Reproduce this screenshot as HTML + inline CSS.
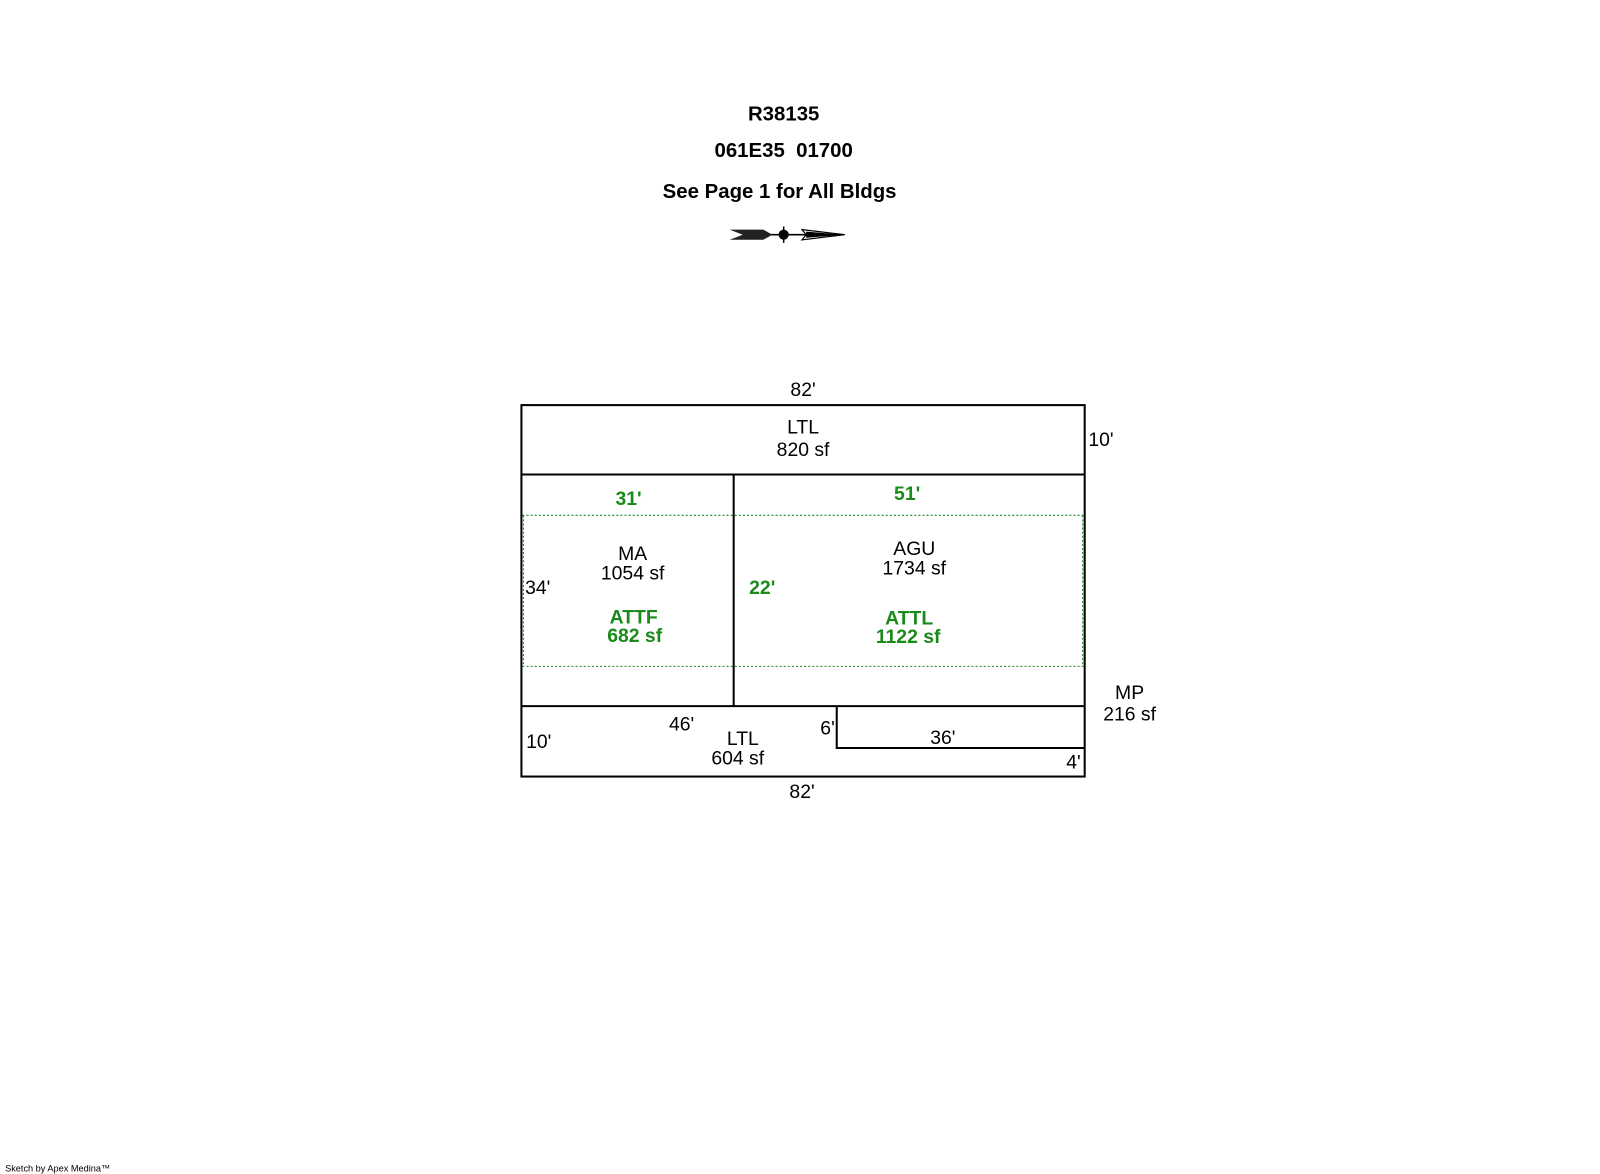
<!DOCTYPE html>
<html><head><style>body{margin:0;background:#fff}svg{display:block}</style></head><body>
<svg width="1600" height="1174" viewBox="0 0 1568 1150.5" preserveAspectRatio="none" xmlns="http://www.w3.org/2000/svg" font-family="Liberation Sans, Arial, sans-serif">
<g font-weight="bold" font-size="20" text-anchor="middle" fill="#000">
<text x="768" y="118">R38135</text>
<text x="768" y="154">061E35&#160;&#160;01700</text>
<text x="764" y="194">See Page 1 for All Bldgs</text>
</g>
<g>
<line x1="730" y1="230" x2="826" y2="230" stroke="#000" stroke-width="1.5"/>
<polygon points="715,225 748,225 757,230 748,235 715,235 728,230" fill="#222"/>
<polygon points="786,225 828,230 786,235 790,230" fill="#fff" stroke="#000" stroke-width="1.2"/>
<polygon points="790,227 828,230 790,233" fill="#000"/>
<circle cx="768" cy="230" r="5" fill="#000"/>
<line x1="768" y1="222" x2="768" y2="238" stroke="#000" stroke-width="1.5"/>
</g>
<g stroke="#000" stroke-width="2" fill="none">
<rect x="511" y="397" width="552" height="364"/>
<line x1="511" y1="465" x2="1063" y2="465"/>
<line x1="719" y1="465" x2="719" y2="692"/>
<line x1="511" y1="692" x2="1063" y2="692"/>
<polyline points="820,692 820,733 1063,733"/>
</g>
<g stroke="#1a8a1a" stroke-width="1" stroke-dasharray="2,2" fill="none">
<line x1="512" y1="505" x2="1062" y2="505"/>
<line x1="512" y1="653" x2="1062" y2="653"/>
<line x1="513" y1="505" x2="513" y2="653"/>
<line x1="1061" y1="505" x2="1061" y2="653"/>
</g>
<g font-size="19" fill="#000" text-anchor="middle">
<text x="787" y="388">82'</text>
<text x="787" y="425">LTL</text>
<text x="787" y="447">820 sf</text>
<text x="1079" y="437">10'</text>
<text x="620" y="549">MA</text>
<text x="620" y="568">1054 sf</text>
<text x="527" y="582">34'</text>
<text x="896" y="544">AGU</text>
<text x="896" y="563">1734 sf</text>
<text x="1107" y="685">MP</text>
<text x="1107" y="706">216 sf</text>
<text x="668" y="716">46'</text>
<text x="528" y="733">10'</text>
<text x="728" y="730">LTL</text>
<text x="723" y="749">604 sf</text>
<text x="811" y="720">6'</text>
<text x="924" y="729">36'</text>
<text x="1052" y="753">4'</text>
<text x="786" y="782">82'</text>
</g>
<g font-size="19" font-weight="bold" fill="#1a8a1a" text-anchor="middle">
<text x="616" y="495">31'</text>
<text x="889" y="490">51'</text>
<text x="747" y="582">22'</text>
<text x="621" y="611">ATTF</text>
<text x="622" y="629">682 sf</text>
<text x="891" y="612">ATTL</text>
<text x="890" y="630">1122 sf</text>
</g>
<text x="5" y="1148" font-size="9" fill="#000">Sketch by Apex Medina™</text>
</svg>
</body></html>
